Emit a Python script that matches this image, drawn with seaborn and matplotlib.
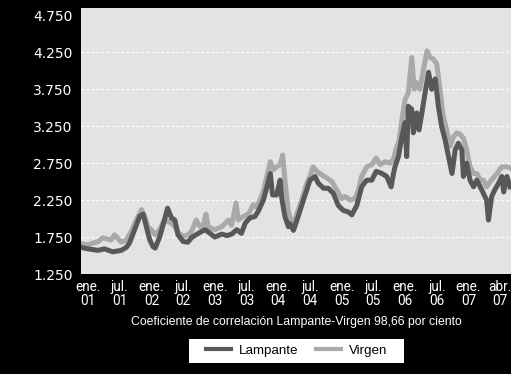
"""Precio del aceite de oliva: Lampante vs Virgen (euros/tonelada, miles)."""
import matplotlib
matplotlib.use('Agg')
import matplotlib.pyplot as plt
from matplotlib import font_manager
from matplotlib.lines import Line2D
from matplotlib.patches import Rectangle
import pandas as pd
import seaborn as sns

# eje x: posición en "periodos de etiqueta" (0 = ene. 01, 13 = abr. 07)
etiquetas = ['ene.\n01', 'jul.\n01', 'ene.\n02', 'jul.\n02', 'ene.\n03', 'jul.\n03',
             'ene.\n04', 'jul.\n04', 'ene.\n05', 'jul.\n05', 'ene.\n06', 'jul.\n06',
             'ene.\n07', 'abr.\n07']
y_ticks = [1.25, 1.75, 2.25, 2.75, 3.25, 3.75, 4.25, 4.75]

virgen_x = [-0.22, 0.00, 0.32, 0.47, 0.73, 0.84, 1.05, 1.21, 1.37, 1.52, 1.69, 1.79, 1.89,
            2.00, 2.12, 2.26, 2.36, 2.48, 2.63, 2.74, 2.84, 3.00, 3.15, 3.27, 3.41, 3.53,
            3.64, 3.72, 3.79, 4.00, 4.22, 4.43, 4.53, 4.67, 4.74, 4.90, 5.06, 5.22, 5.32,
            5.42, 5.53, 5.63, 5.75, 5.85, 5.95, 6.06, 6.14, 6.21, 6.32, 6.42, 6.51, 6.59,
            6.74, 6.90, 7.00, 7.10, 7.21, 7.38, 7.53, 7.69, 7.84, 8.00, 8.11, 8.27, 8.42,
            8.53, 8.63, 8.79, 8.95, 9.09, 9.21, 9.37, 9.52, 9.63, 9.72, 9.81, 9.90, 10.00,
            10.10, 10.21, 10.29, 10.37, 10.47, 10.58, 10.69, 10.79, 10.89, 11.00, 11.10,
            11.20, 11.31, 11.42, 11.53, 11.63, 11.73, 11.84, 11.94, 12.05, 12.16, 12.26,
            12.37, 12.47, 12.57, 12.68, 12.78, 12.90, 13.05, 13.21, 13.34]
virgen = [1.66, 1.645, 1.69, 1.74, 1.71, 1.78, 1.68, 1.71, 1.83, 1.98, 2.12, 2.03, 1.89,
          1.85, 1.78, 1.85, 1.94, 1.97, 1.94, 1.89, 1.81, 1.76, 1.78, 1.83, 1.98, 1.89,
          1.91, 2.06, 1.89, 1.85, 1.89, 1.98, 1.91, 2.21, 1.98, 2.03, 2.06, 2.19, 2.15,
          2.25, 2.37, 2.55, 2.77, 2.66, 2.70, 2.73, 2.86, 2.52, 2.10, 1.95, 1.96, 2.07,
          2.25, 2.48, 2.57, 2.70, 2.64, 2.59, 2.55, 2.50, 2.39, 2.27, 2.30, 2.25, 2.27,
          2.39, 2.57, 2.70, 2.73, 2.82, 2.73, 2.77, 2.75, 2.80, 2.95, 3.05, 3.34, 3.61,
          3.70, 4.18, 3.75, 3.84, 3.75, 4.02, 4.27, 4.18, 4.16, 4.09, 3.75,
          3.39, 3.20, 2.98, 3.11, 3.16, 3.14, 3.09, 2.93, 2.70, 2.61, 2.61,
          2.52, 2.52, 2.43, 2.50, 2.55, 2.61, 2.70, 2.70, 2.68]

lampante_x = [-0.22, 0.00, 0.32, 0.52, 0.78, 1.05, 1.21, 1.31, 1.47, 1.63, 1.74, 1.84, 1.95,
              2.05, 2.12, 2.26, 2.41, 2.51, 2.63, 2.74, 2.84, 3.00, 3.15, 3.27, 3.48, 3.69,
              3.85, 4.00, 4.22, 4.38, 4.53, 4.69, 4.84, 4.96, 5.11, 5.27, 5.37, 5.53, 5.63,
              5.75, 5.82, 5.95, 6.06, 6.11, 6.21, 6.32, 6.37, 6.48, 6.59, 6.74, 6.90, 7.00,
              7.16, 7.26, 7.43, 7.58, 7.74, 7.89, 8.05, 8.21, 8.32, 8.48, 8.63, 8.79, 8.95,
              9.09, 9.27, 9.42, 9.56, 9.63, 9.68, 9.79, 9.90, 10.00, 10.05, 10.10, 10.21,
              10.26, 10.37, 10.44, 10.53, 10.63, 10.74, 10.84, 10.95, 11.05, 11.15, 11.26,
              11.37, 11.48, 11.58, 11.68, 11.79, 11.84, 11.94, 12.05, 12.16, 12.26, 12.37,
              12.47, 12.57, 12.63, 12.73, 12.83, 12.95, 13.05, 13.11, 13.21, 13.31]
lampante = [1.61, 1.59, 1.57, 1.59, 1.55, 1.57, 1.61, 1.67, 1.85, 2.03, 2.06, 1.89, 1.71,
            1.62, 1.60, 1.75, 1.98, 2.14, 2.01, 1.98, 1.78, 1.69, 1.68, 1.745, 1.80, 1.85,
            1.80, 1.75, 1.79, 1.77, 1.79, 1.85, 1.80, 1.94, 2.01, 2.03, 2.10, 2.25, 2.41,
            2.61, 2.32, 2.32, 2.52, 2.28, 2.03, 1.89, 1.93, 1.84, 1.98, 2.18, 2.39, 2.52,
            2.57, 2.48, 2.41, 2.41, 2.34, 2.18, 2.11, 2.09, 2.05, 2.18, 2.43, 2.52, 2.52,
            2.64, 2.61, 2.57, 2.43, 2.60, 2.70, 2.84, 3.11, 3.30, 2.84, 3.52, 3.48,
            3.16, 3.43, 3.20, 3.43, 3.70, 3.98, 3.75, 3.89, 3.52, 3.25, 3.07,
            2.84, 2.61, 2.93, 3.02, 2.93, 2.57, 2.75, 2.52, 2.43, 2.52, 2.43,
            2.34, 2.25, 1.98, 2.30, 2.39, 2.48, 2.57, 2.36, 2.57, 2.43]

colores = {'Lampante': '#58585a', 'Virgen': '#a9a9a9'}

df = pd.concat([
    pd.DataFrame({'x': virgen_x, 'valor': virgen, 'serie': 'Virgen'}),
    pd.DataFrame({'x': lampante_x, 'valor': lampante, 'serie': 'Lampante'}),
])

nombres = {f.name for f in font_manager.fontManager.ttflist}
estrecha = 'Liberation Sans Narrow' if 'Liberation Sans Narrow' in nombres else 'Roboto'

fig = plt.figure(figsize=(5.11, 3.74), dpi=100, facecolor='black')
ax = fig.add_axes([81 / 511, 1 - 274 / 374, 430 / 511, 266 / 374])
ax.set_facecolor('#e3e3e3')

sns.lineplot(data=df, x='x', y='valor', hue='serie', hue_order=['Virgen', 'Lampante'],
             palette=colores, estimator=None, sort=False, lw=3.6, legend=False, ax=ax)

ax.set_xlim(-0.22, 13.34)
ax.set_ylim(1.25, 4.85)
for s in ax.spines.values():
    s.set_visible(False)

ax.set_yticks(y_ticks)
ax.set_yticklabels([f'{v:.3f}' for v in y_ticks], fontsize=10, color='white',
                   family='DejaVu Sans')
ax.set_xticks(range(len(etiquetas)))
ax.set_xticklabels(etiquetas, fontsize=9.8, color='white', family=estrecha)
for t in ax.get_xticklabels():
    t.set_linespacing(1.0)
ax.tick_params(axis='both', length=0)
ax.tick_params(axis='y', pad=6)
ax.tick_params(axis='x', pad=4)
ax.set_xlabel('')
ax.set_ylabel('')

ax.yaxis.grid(True, color='white', linestyle=(0, (2.5, 2)), lw=0.8)
ax.set_axisbelow(True)
gl = ax.yaxis.get_gridlines()
gl[0].set_visible(False)
gl[-1].set_visible(False)

fig.text(296.5 / 511, 1 - 322 / 374, 'Coeficiente de correlación Lampante-Virgen 98,66 por ciento',
         ha='center', va='center', color='white', fontsize=8.8, family='Liberation Sans')

fig.patches.append(Rectangle((189 / 511, 11 / 374), 215 / 511, 24 / 374,
                             transform=fig.transFigure, facecolor='white', edgecolor='none'))
handles = [Line2D([], [], color=colores[k], lw=3) for k in ['Lampante', 'Virgen']]
fig.legend(handles, ['Lampante', 'Virgen'], loc='center', ncol=2,
           bbox_to_anchor=(296.5 / 511, 1 - 351 / 374), frameon=False,
           prop={'family': 'Liberation Sans', 'size': 9.6}, handlelength=1.9,
           handletextpad=0.55, columnspacing=1.35, labelcolor='black')

fig.savefig('out.png', dpi=100, facecolor='black')
